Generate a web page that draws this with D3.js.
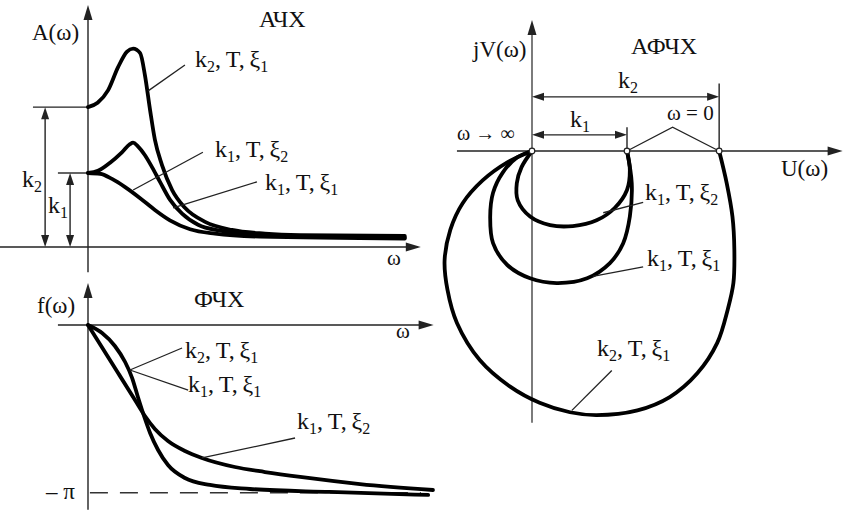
<!DOCTYPE html>
<html><head><meta charset="utf-8">
<script src="https://cdn.jsdelivr.net/npm/d3@7"></script>
<style>
body{margin:0;background:#fff}
</style></head><body>
<svg id="c" width="844" height="514"></svg>
<script>
// ---------- АЧХ (amplitude) : [omega, A] ----------
const ampK2Xi1 = [[0,1.89],[0.3,1.95],[0.63,2.12],[0.94,2.43],[1.22,2.64],[1.41,2.68],[1.63,2.62],[1.78,2.32],[1.94,1.85],[2.09,1.45],[2.31,1.11],[2.63,0.77],[3.03,0.53],[3.66,0.34],[4.5,0.23],[5.53,0.18],[6.63,0.16],[9.9,0.15]];
const ampK1Xi2 = [[0,1],[0.31,1.03],[0.69,1.14],[1.06,1.28],[1.31,1.39],[1.41,1.41],[1.56,1.36],[1.78,1.24],[2.0,1.08],[2.25,0.88],[2.56,0.64],[2.94,0.45],[3.44,0.30],[4.13,0.22],[5.53,0.16],[9.9,0.13]];
const ampK1Xi1 = [[0,1],[0.38,0.99],[0.75,0.92],[1.16,0.81],[1.63,0.66],[2.09,0.5],[2.56,0.36],[3.19,0.24],[3.97,0.18],[5.38,0.14],[9.9,0.115]];
const ampK = {k1: 1, k2: 1.89};

// ---------- ФЧХ (phase) : [omega, phi] ----------
const phaseXi1 = [[0,0],[0.44,-0.150],[0.84,-0.393],[1.16,-0.693],[1.38,-0.993],[1.56,-1.349],[1.75,-1.705],[1.94,-2.023],[2.19,-2.342],[2.5,-2.623],[3.03,-2.866],[3.81,-2.997],[5.06,-3.072],[7.56,-3.128],[10.63,-3.184]];
const phaseXi2 = [[0,0],[0.47,-0.450],[0.94,-0.899],[1.41,-1.349],[1.78,-1.705],[2.09,-1.948],[2.5,-2.173],[3.03,-2.360],[3.56,-2.491],[4.59,-2.660],[5.53,-2.754],[6.63,-2.847],[8.5,-2.979],[10.78,-3.091]];

// ---------- АФЧХ (Nyquist) : [U, V] ----------
const nyqK1Xi2 = [[1,0],[1.03,-0.2],[1.0,-0.41],[0.87,-0.6],[0.68,-0.73],[0.43,-0.79],[0.19,-0.78],[-0.02,-0.69],[-0.15,-0.52],[-0.16,-0.34],[-0.11,-0.17],[0,0]];
const nyqK1Xi1 = [[1,0],[1.05,-0.34],[1.03,-0.69],[0.96,-0.97],[0.82,-1.18],[0.58,-1.34],[0.26,-1.39],[-0.02,-1.34],[-0.26,-1.2],[-0.41,-0.97],[-0.44,-0.69],[-0.41,-0.44],[-0.31,-0.23],[-0.16,-0.07],[0,0]];
const nyqK2Xi1 = [[1.97,0],[2.05,-0.34],[2.11,-0.69],[2.13,-1.04],[2.12,-1.39],[2.06,-1.67],[1.95,-2.02],[1.74,-2.34],[1.45,-2.59],[1.11,-2.73],[0.68,-2.78],[0.40,-2.75],[0.08,-2.65],[-0.23,-2.48],[-0.55,-2.2],[-0.79,-1.81],[-0.89,-1.46],[-0.92,-1.15],[-0.86,-0.83],[-0.73,-0.55],[-0.52,-0.31],[-0.26,-0.12],[0,0]];
const nyqK = {k1: 1, k2: 1.97};

// ---------- texts ----------
const titles = ["АЧХ", "ФЧХ", "АФЧХ"];
const omegaSym = "ω";

const svg = d3.select("#c");
const xA = d3.scaleLinear([0,10],[88,408]);
const yA = d3.scaleLinear([0,1],[247,173]);
const xF = d3.scaleLinear([0,10],[88,408]);
const yF = d3.scaleLinear([0,-Math.PI],[325,492.7]);
const xN = d3.scaleLinear([0,1],[532,627]);
const yN = d3.scaleLinear([0,-1],[151,246]);

const AX = "#222";
const FONT = "Liberation Serif";
function seg(x1,y1,x2,y2,w,col){ return svg.append("line").attr("x1",x1).attr("y1",y1).attr("x2",x2).attr("y2",y2).attr("stroke",col||AX).attr("stroke-width",w||1.4); }
function head(x,y,ang,len,wd){
  const c=Math.cos(ang), s=Math.sin(ang);
  const bx=x-len*c, by=y-len*s;
  svg.append("path").attr("d",`M${x},${y}L${bx - wd*s},${by + wd*c}L${bx + wd*s},${by - wd*c}Z`).attr("fill",AX);
}
function txt(x,y,s,size){ return svg.append("text").attr("x",x).attr("y",y).style("font-family",FONT).attr("fill","#111").attr("font-size",size||23).text(s); }
function kLabel(x,y,lab){
  const t=svg.append("text").attr("x",x).attr("y",y).style("font-family",FONT).attr("fill","#111").attr("font-size",24);
  t.append("tspan").text("k");
  t.append("tspan").attr("dy",5).attr("font-size",16).text(lab[0]);
  t.append("tspan").attr("dy",-5).text(",\u2009T,\u2009ξ");
  t.append("tspan").attr("dy",5).attr("font-size",16).text(lab[1]);
}
function kSym(x,y,i){
  const t=svg.append("text").attr("x",x).attr("y",y).style("font-family",FONT).attr("fill","#111").attr("font-size",24);
  t.append("tspan").text("k");
  t.append("tspan").attr("dy",5).attr("font-size",16).text(i);
}
function curve(data,xs,ys,cf){
  svg.append("path").datum(data).attr("fill","none").attr("stroke","#000").attr("stroke-width",3.8)
    .attr("stroke-linejoin","round").attr("stroke-linecap","round")
    .attr("d",d3.line().x(d=>xs(d[0])).y(d=>ys(d[1])).curve(cf)(data));
}
function leader(xs,ys,pts){
  svg.append("path").attr("fill","none").attr("stroke",AX).attr("stroke-width",1.3)
    .attr("d",d3.line().x(d=>xs(d[0])).y(d=>ys(d[1]))(pts));
}

// ===== АЧХ panel =====
seg(xA(-2.75),yA(0),xA(10.3),yA(0));
head(xA(10.4),yA(0),0,15,4.5);
seg(xA(0),yA(-0.34),xA(0),yA(3.2));
head(xA(0),yA(3.27),-Math.PI/2,15,4.5);
seg(xA(-1.72),yA(ampK.k2),xA(0),yA(ampK.k2));
seg(xA(-0.94),yA(ampK.k1),xA(0),yA(ampK.k1));
[[-1.34,ampK.k2],[-0.56,ampK.k1]].forEach(([w,a])=>{
  seg(xA(w),yA(0)-10,xA(w),yA(a)+10);
  head(xA(w),yA(a),-Math.PI/2,12,4);
  head(xA(w),yA(0),Math.PI/2,12,4);
});
curve(ampK2Xi1,xA,yA,d3.curveMonotoneX);
curve(ampK1Xi2,xA,yA,d3.curveMonotoneX);
curve(ampK1Xi1,xA,yA,d3.curveMonotoneX);
leader(xA,yA,[[1.88,2.11],[3.03,2.46]]);
leader(xA,yA,[[1.41,0.77],[3.59,1.28]]);
leader(xA,yA,[[2.66,0.53],[5.28,0.88]]);
txt(259,27,titles[0],24);
txt(32,40,"A(" + omegaSym + ")");
txt(387,265,omegaSym,21);
kSym(22,187,"2"); kSym(48,213,"1");
kLabel(195,67,["2","1"]);
kLabel(215,157,["1","2"]);
kLabel(265,190,["1","1"]);

// ===== ФЧХ panel =====
seg(xF(-0.94),yF(0),xF(10.7),yF(0));
head(xF(10.8),yF(0),0,15,4.5);
seg(xF(0),yF.range()[1]+17,xF(0),yF(0)-38);
head(xF(0),yF(0)-42,-Math.PI/2,15,4.5);
svg.append("line").attr("x1",xF(0.06)).attr("x2",xF(10.4)).attr("y1",yF(-Math.PI)).attr("y2",yF(-Math.PI))
  .attr("stroke","#333").attr("stroke-width",1.4).attr("stroke-dasharray","18,12");
curve(phaseXi1,xF,yF,d3.curveMonotoneX);
curve(phaseXi2,xF,yF,d3.curveMonotoneX);
leader(xF,yF,[[1.31,-0.843],[2.94,-0.431]]);
leader(xF,yF,[[1.31,-0.843],[3.13,-1.218]]);
leader(xF,yF,[[3.56,-2.491],[6.47,-2.117]]);
txt(194,307,titles[1],24);
txt(37,313,"f(" + omegaSym + ")");
txt(396,338,omegaSym,21);
txt(46,499,"– π");
kLabel(185,358,["2","1"]);
kLabel(188,392,["1","1"]);
kLabel(297,429,["1","2"]);

// ===== АФЧХ panel =====
seg(xN(-0.79),yN(0),xN(3.12),yN(0));
head(xN(3.27),yN(0),0,15,4.5);
seg(xN(0),yN(-2.86),xN(0),yN(1.25),1.4,"#444");
head(xN(0),yN(1.38),-Math.PI/2,15,4.5);
[[0.57,nyqK.k2,0.71],[0.17,nyqK.k1,0.25]].forEach(([v,u,t])=>{
  seg(xN(u),yN(0),xN(u),yN(t));
  seg(xN(0)+10,yN(v),xN(u)-10,yN(v));
  head(xN(0),yN(v),Math.PI,12,4);
  head(xN(u),yN(v),0,12,4);
});
leader(xN,yN,[[1,0],[1.48,0.25],[nyqK.k2,0]]);
curve(nyqK2Xi1,xN,yN,d3.curveCatmullRom.alpha(0.5));
curve(nyqK1Xi1,xN,yN,d3.curveCatmullRom.alpha(0.5));
curve(nyqK1Xi2,xN,yN,d3.curveCatmullRom.alpha(0.5));
[0,nyqK.k1,nyqK.k2].forEach(u=>{
  svg.append("circle").attr("cx",xN(u)).attr("cy",yN(0)).attr("r",2.8).attr("fill","#fff").attr("stroke","#222").attr("stroke-width",1.2);
});
leader(xN,yN,[[0.75,-0.65],[1.17,-0.54]]);
leader(xN,yN,[[0.64,-1.32],[1.17,-1.22]]);
leader(xN,yN,[[0.42,-2.73],[0.84,-2.31]]);
txt(631,54,titles[2],24);
txt(473,57,"jV(" + omegaSym + ")");
txt(781,176,"U(" + omegaSym + ")");
kSym(618,88,"2"); kSym(570,127,"1");
txt(457,140,omegaSym + " → ∞",20);
txt(667,120,omegaSym + " = 0",21);
kLabel(645,200,["1","2"]);
kLabel(647,266,["1","1"]);
kLabel(597,356,["2","1"]);
</script>
</body></html>
